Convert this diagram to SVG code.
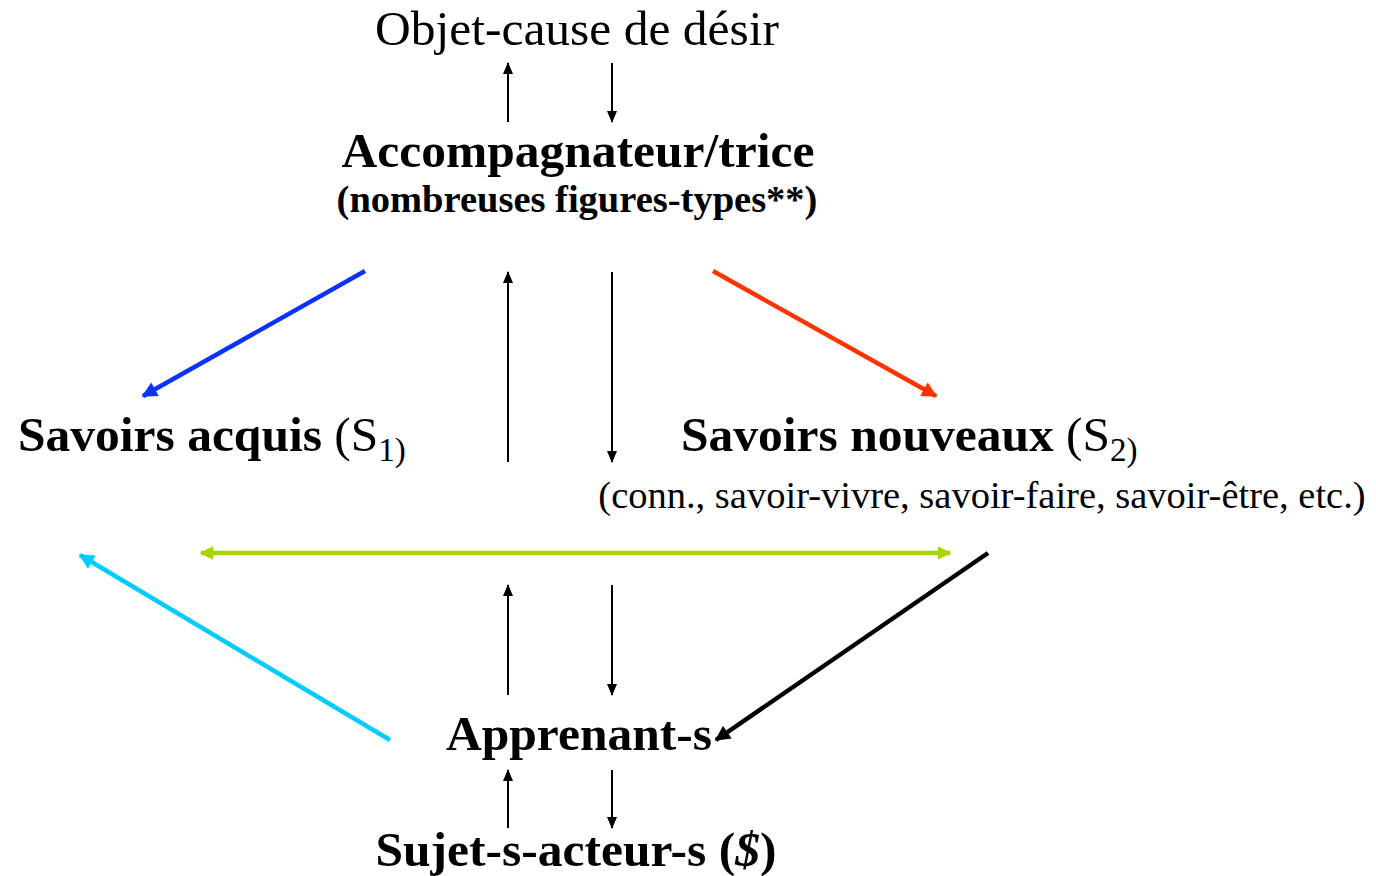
<svg xmlns="http://www.w3.org/2000/svg" width="1376" height="876" viewBox="0 0 1376 876">
<style>
text{font-family:"Liberation Serif","Times New Roman",serif;fill:#000}
.b{font-weight:bold}
.big{font-size:49.5px}
.med{font-size:38.5px}
.sub{font-size:33px}
.thin{stroke:#000;stroke-width:2;fill:none}
.fat{stroke-width:4.5;fill:none}
</style>
<defs>
<marker id="ah" viewBox="0 0 12 10" refX="11" refY="5" markerWidth="12" markerHeight="10" markerUnits="userSpaceOnUse" orient="auto"><path d="M0,0L12,5L0,10z" fill="#000"/></marker>
<marker id="ab" viewBox="0 0 10 10" refX="9" refY="5" markerWidth="3.8" markerHeight="3.4" orient="auto"><path d="M0,0L10,5L0,10z" fill="#0a32ff"/></marker>
<marker id="ar" viewBox="0 0 10 10" refX="9" refY="5" markerWidth="3.8" markerHeight="3.4" orient="auto"><path d="M0,0L10,5L0,10z" fill="#ff3300"/></marker>
<marker id="ac" viewBox="0 0 10 10" refX="9" refY="5" markerWidth="3.8" markerHeight="3.4" orient="auto"><path d="M0,0L10,5L0,10z" fill="#00ccff"/></marker>
<marker id="ak" viewBox="0 0 10 10" refX="9" refY="5" markerWidth="3.8" markerHeight="3.4" orient="auto"><path d="M0,0L10,5L0,10z" fill="#000"/></marker>
<marker id="ag" viewBox="0 0 10 10" refX="9" refY="5" markerWidth="3.4" markerHeight="3" orient="auto-start-reverse"><path d="M0,0L10,5L0,10z" fill="#aad400"/></marker>
</defs>
<g id="connectors">
<line class="thin" x1="508" y1="122" x2="508" y2="63" marker-end="url(#ah)"/>
<line class="thin" x1="612" y1="63" x2="612" y2="122" marker-end="url(#ah)"/>
<line class="thin" x1="508" y1="462" x2="508" y2="272" marker-end="url(#ah)"/>
<line class="thin" x1="612" y1="272" x2="612" y2="462" marker-end="url(#ah)"/>
<line class="thin" x1="508" y1="695" x2="508" y2="585" marker-end="url(#ah)"/>
<line class="thin" x1="612" y1="585" x2="612" y2="695" marker-end="url(#ah)"/>
<line class="thin" x1="508" y1="828" x2="508" y2="770" marker-end="url(#ah)"/>
<line class="thin" x1="612" y1="770" x2="612" y2="828" marker-end="url(#ah)"/>
<line class="fat" stroke="#0a32ff" x1="365" y1="271" x2="143" y2="396" marker-end="url(#ab)"/>
<line class="fat" stroke="#ff3300" x1="713" y1="271" x2="936" y2="396" marker-end="url(#ar)"/>
<line class="fat" stroke="#aad400" x1="201" y1="553" x2="950" y2="553" marker-start="url(#ag)" marker-end="url(#ag)"/>
<line class="fat" stroke="#00ccff" x1="390" y1="740" x2="80" y2="555" marker-end="url(#ac)"/>
<line class="fat" stroke="#000" stroke-width="5" x1="988" y1="553" x2="716" y2="740" marker-end="url(#ak)"/>
</g>
<g id="objet"><text class="big" x="577" y="45" text-anchor="middle">Objet-cause de désir</text></g>
<g id="accompagnateur">
<text class="b big" x="578" y="167" text-anchor="middle">Accompagnateur/trice</text>
<text class="b med" x="577" y="212" text-anchor="middle">(nombreuses figures-types**)</text>
</g>
<g id="savoirs-acquis"><text class="big" x="18" y="451"><tspan class="b">Savoirs acquis</tspan> (S<tspan class="sub" dy="10">1)</tspan></text></g>
<g id="savoirs-nouveaux">
<text class="big" x="681" y="451"><tspan class="b">Savoirs nouveaux</tspan> (S<tspan class="sub" dy="10">2)</tspan></text>
<text class="med" x="982" y="508" text-anchor="middle">(conn., savoir-vivre, savoir-faire, savoir-être, etc.)</text>
</g>
<g id="apprenants"><text class="b big" x="579" y="750" text-anchor="middle">Apprenant-s</text></g>
<g id="sujets"><text class="b big" x="576" y="866" text-anchor="middle">Sujet-s-acteur-s (<tspan font-style="italic">$</tspan>)</text></g>
</svg>
